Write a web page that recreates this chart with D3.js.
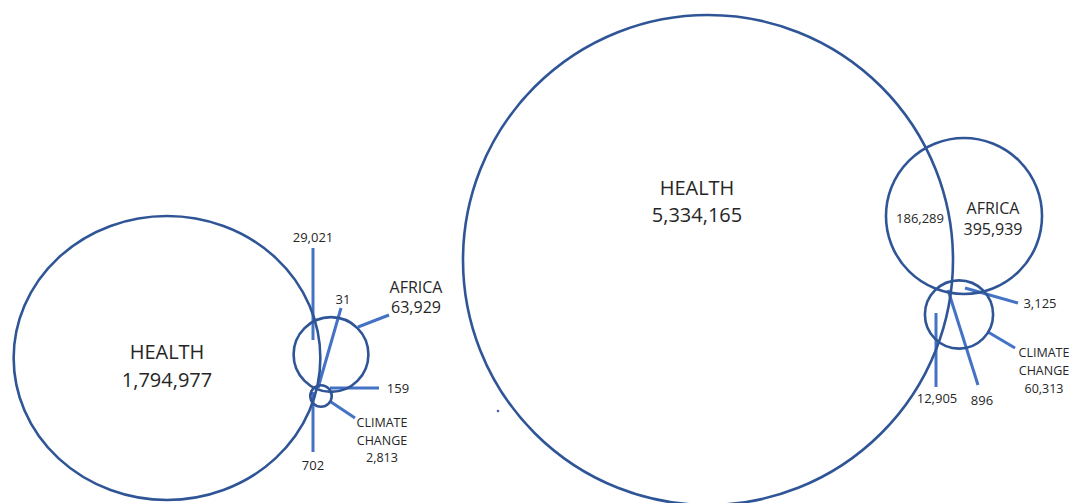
<!DOCTYPE html>
<html>
<head>
<meta charset="utf-8">
<script src="https://cdnjs.cloudflare.com/ajax/libs/d3/7.8.5/d3.min.js"></script>
<style>
  body { margin: 0; background: #fff; }
  svg { display: block; }
  text { font-family: "Open Sans", sans-serif; fill: #262626; }
</style>
</head>
<body>
<svg id="chart" width="1074" height="503"></svg>
<script>
// sets shown in each diagram
var sets = ["HEALTH", "AFRICA", "CLIMATE CHANGE"];

// totals per set, left and right diagram
var totalsLeft = [1794977, 63929, 2813];
var totalsRight = [5334165, 395939, 60313];

// overlap counts (called out with leader lines)
var overlapsLeft = [29021, 31, 159, 702];
var overlapsRight = [186289, 3125, 12905, 896];

var fmt = d3.format(",");
var svg = d3.select("#chart");

// layout: centres, size of the biggest circle, leader lines
var panels = [
  {
    totals: totalsLeft, overlaps: overlapsLeft,
    exponent: 0.4, rMax: 142, stretch: [1.08, 1, 1],
    centers: [[167, 358], [331, 354.5], [321, 396]],
    setLabels: [
      { x: 167, y: 359, size: 20, gap: 28 },
      { x: 416, y: 293, size: 16, gap: 20, line: [358, 327, 389, 315] },
      { x: 382, y: 427, size: 12.5, gap: 17.5, line: [331, 402, 355, 418] }
    ],
    overlapLabels: [
      { x: 313, y: 242, line: [313, 248, 313, 340] },
      { x: 343, y: 304, line: [341, 308, 318, 388] },
      { x: 398, y: 393, line: [330, 388, 379, 388] },
      { x: 313, y: 470, line: [313, 392, 313, 452] }
    ]
  },
  {
    totals: totalsRight, overlaps: overlapsRight,
    exponent: 0.44, rMax: 245, stretch: [1, 1, 1],
    centers: [[708, 260], [964, 216], [959, 314.5]],
    setLabels: [
      { x: 697, y: 195, size: 20, gap: 27 },
      { x: 993, y: 214, size: 16, gap: 21 },
      { x: 1044, y: 357, size: 12.5, gap: 18, line: [988, 332, 1015, 348] }
    ],
    overlapLabels: [
      { x: 920, y: 223 },
      { x: 1040, y: 308, line: [965, 288, 1018, 303] },
      { x: 937, y: 403, line: [936, 313, 936, 387] },
      { x: 982, y: 405, line: [948, 290, 978, 385] }
    ]
  }
];

panels.forEach(function(p) {
  var r = d3.scalePow().exponent(p.exponent)
      .domain([0, d3.max(p.totals)])
      .range([0, p.rMax]);

  var g = svg.append("g");

  // leader lines go under the circles
  var leaders = p.setLabels.concat(p.overlapLabels).filter(function(d) { return d.line; });
  g.selectAll(".leader").data(leaders).enter().append("line")
      .attr("class", "leader")
      .attr("x1", function(d) { return d.line[0]; })
      .attr("y1", function(d) { return d.line[1]; })
      .attr("x2", function(d) { return d.line[2]; })
      .attr("y2", function(d) { return d.line[3]; })
      .attr("stroke", "#4472C4")
      .attr("stroke-width", 3);

  g.selectAll(".set").data(p.totals).enter().append("ellipse")
      .attr("class", "set")
      .attr("cx", function(d, i) { return p.centers[i][0]; })
      .attr("cy", function(d, i) { return p.centers[i][1]; })
      .attr("rx", function(d, i) { return r(d) * p.stretch[i]; })
      .attr("ry", function(d) { return r(d); })
      .attr("fill", "none")
      .attr("stroke", "#2F5597")
      .attr("stroke-width", 2.6);

  // set names + totals
  g.selectAll(".setLabel").data(p.totals).enter().append("text")
      .attr("class", "setLabel")
      .attr("text-anchor", "middle")
      .style("font-size", function(d, i) { return p.setLabels[i].size + "px"; })
      .each(function(d, i) {
        var l = p.setLabels[i];
        var lines = sets[i].split(" ").concat([fmt(d)]);
        d3.select(this).selectAll("tspan").data(lines).enter().append("tspan")
            .attr("x", l.x)
            .attr("y", function(t, j) { return l.y + j * l.gap; })
            .text(function(t) { return t; });
      });

  g.selectAll(".overlap").data(p.overlaps).enter().append("text")
      .attr("class", "overlap")
      .attr("text-anchor", "middle")
      .attr("x", function(d, i) { return p.overlapLabels[i].x; })
      .attr("y", function(d, i) { return p.overlapLabels[i].y; })
      .style("font-size", "13px")
      .text(function(d) { return fmt(d); });
});

// stray dot in the original
svg.append("circle").attr("cx", 498).attr("cy", 411).attr("r", 1.3).attr("fill", "#4a5bb0");
</script>
</body>
</html>
